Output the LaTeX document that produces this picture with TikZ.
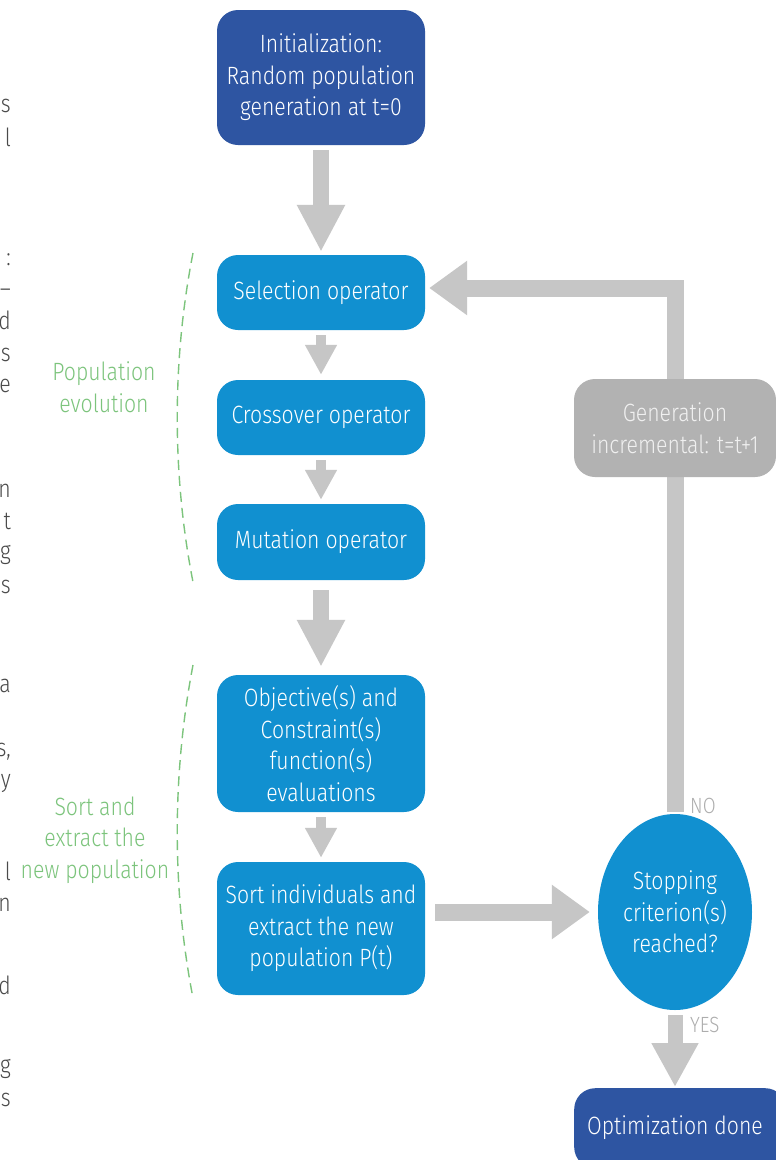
\documentclass[tikz,border=0pt]{standalone}
\usepackage{fontspec}
\setmainfont{Fira Sans}[UprightFont=* Light, FakeStretch=0.85]
\usetikzlibrary{shapes.geometric,arrows.meta}
\definecolor{darkblue}{HTML}{2E55A2}
\definecolor{midblue}{HTML}{1190D0}
\definecolor{arrowgray}{HTML}{C6C6C6}
\definecolor{boxgray}{HTML}{B2B2B2}
\definecolor{labelgreen}{HTML}{7CC47C}
\definecolor{fraggray}{HTML}{4A4A4A}
\definecolor{yesno}{HTML}{ADADAD}
\tikzset{
  txt/.style={font=\fontsize{25}{31.5}\selectfont, align=center},
  box/.style={txt, rounded corners=21pt, minimum width=208pt, inner sep=0pt, text=white},
  darkbox/.style={box, fill=darkblue},
  bluebox/.style={box, fill=midblue},
  graybox/.style={box, fill=boxgray, minimum width=202pt, text=white!94!black},
  bigarrow/.style={draw=arrowgray, line width=16pt, -{Triangle[length=47pt,width=45pt]}},
  smallarrow/.style={draw=arrowgray, line width=10pt, -{Triangle[length=30pt,width=30pt]}},
  sidearrow/.style={draw=arrowgray, line width=17pt, -{Triangle[length=38pt,width=52pt]}},
  grouparc/.style={draw=labelgreen, line width=1.4pt, dash pattern=on 10pt off 6pt},
  grouplabel/.style={txt, text=labelgreen},
  frag/.style={font=\fontsize{25}{31.5}\selectfont, text=fraggray, anchor=base east, inner sep=0pt},
  yn/.style={font=\fontsize{22}{28}\selectfont, text=yesno, anchor=west, inner sep=0pt}
}
\begin{document}
\begin{tikzpicture}[x=1pt,y=-1pt]
\clip (0,0) rectangle (776,1160);
\fill[white] (0,0) rectangle (776,1160);

% cut-off text fragments at left edge
\foreach \t/\y in {s/112, l/146, :/265, –/297, d/329, s/361, e/392, n/497, t/529, g/559, s/593,
                   a/692, {s,}/756, y/787, l/880, n/911, d/994, g/1073, s/1106}
  \node[frag] at (11,\y) {\t};

% main nodes
\node[darkbox, minimum height=135pt] (init) at (321,77.5) {Initialization:\\Random population\\generation at t=0};
\node[bluebox, minimum height=75pt] (sel) at (321,292.5) {Selection operator};
\node[bluebox, minimum height=75pt] (cross) at (321,417.5) {Crossover operator};
\node[bluebox, minimum height=76pt] (mut) at (321,542) {Mutation operator};
\node[bluebox, minimum height=137pt] (obj) at (321,743.5) {Objective(s) and\\Constraint(s)\\function(s)\\evaluations};
\node[bluebox, minimum height=133pt] (sort) at (321,928.5) {Sort individuals and\\extract the new\\population P(t)};
\node[txt, ellipse, fill=midblue, text=white, minimum width=154pt, minimum height=196pt, inner sep=0pt] (stop) at (675,912) {Stopping\\criterion(s)\\reached?};
\node[darkbox, minimum width=212pt, minimum height=80pt, anchor=north west] (opt) at (574,1088) {};
\node[txt, text=white, anchor=center] (opttext) at (675,1128) {Optimization done};

% connectors
\draw[bigarrow, shorten <=5pt, shorten >=3pt] (init.south) -- (sel.north);
\draw[smallarrow, shorten <=5pt, shorten >=5pt] (sel.south) -- (cross.north);
\draw[smallarrow, shorten <=5pt, shorten >=4pt] (cross.south) -- (mut.north);
\draw[bigarrow, shorten <=10pt, shorten >=8pt] (mut.south) -- (obj.north);
\draw[smallarrow, shorten <=5pt, shorten >=4pt] (obj.south) -- (sort.north);
\draw[sidearrow, shorten <=10pt, shorten >=8pt] (sort.east |- stop.west) -- (stop.west);
\draw[bigarrow, -{Triangle[length=44pt,width=44pt]}, line width=15pt, shorten <=5pt, shorten >=1pt] (stop.south) -- (opt.north -| stop.south);
\draw[sidearrow, line join=miter, shorten <=2pt, shorten >=4pt] (stop.north) |- ([yshift=4.5pt]sel.east);

% generation box over the loop line
\node[graybox, minimum height=98pt] (gen) at (675,428) {Generation\\incremental: t=t+1};

% yes / no labels
\node[yn] (no) at (690,806) {NO};
\node[yn] (yes) at (690,1025) {YES};

% group arcs and labels
\draw[grouparc] (193,253) .. controls (172,360) and (172,475) .. (193,582);
\draw[grouparc] (193,665) .. controls (172,775) and (172,890) .. (193,998);
\node[grouplabel] (popevo) at (104,387) {Population\\evolution};
\node[grouplabel] (sortext) at (95,840) {Sort and\\extract the\\new population};
\end{tikzpicture}
\end{document}
